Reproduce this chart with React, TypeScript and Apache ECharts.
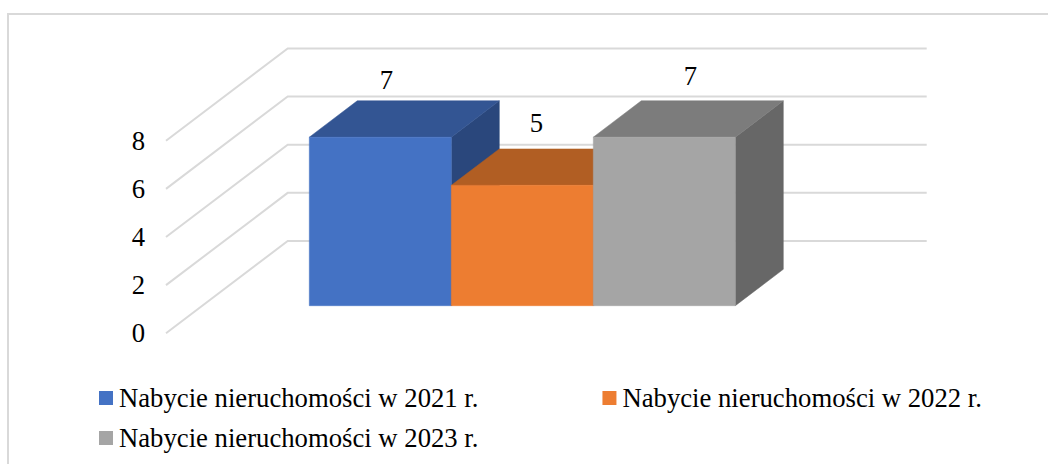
import React, { useEffect, useRef } from "react";
import * as echarts from "echarts";

const categories = ["Nabycie nieruchomości"];
const seriesNames = [
  "Nabycie nieruchomości w 2021 r.",
  "Nabycie nieruchomości w 2022 r.",
  "Nabycie nieruchomości w 2023 r.",
];
const values2021 = [7];
const values2022 = [5];
const values2023 = [7];
const allValues = [values2021, values2022, values2023];
const yTicks = [0, 2, 4, 6, 8];

const frontColors = ["#4472C4", "#ED7D31", "#A5A5A5"];
const topColors = ["#335593", "#B15E23", "#7C7C7C"];
const sideColors = ["#2A477C", "#B15E23", "#676767"];
const gridColor = "#D9D9D9";
const FONT = '"Liberation Serif", "Times New Roman", serif';
const FONT_SIZE = 26.7;

// oblique projection: depth of the wall and of the bar box in pixels
const WALL_DX = 121.7;
const WALL_DY = -92.3;
const BAR_SHIFT_X = 36.8;
const BAR_SHIFT_Y = -27.6;
const BAR_DX = 48;
const BAR_DY = -36.4;
const BAR_W = 142;
const LABEL_OFFSETS = [
  { dx: 6, dy: -57 },
  { dx: 14, dy: -62 },
  { dx: 26, dy: -61 },
];

function makeBar(idx: number) {
  return (params: any, api: any) => {
    const v = api.value(1);
    const top = api.coord([api.value(0), v]);
    const base = api.coord([api.value(0), 0]);
    const cx = top[0] + BAR_SHIFT_X;
    const x0 = cx + (idx - 1.5) * BAR_W;
    const x1 = x0 + BAR_W;
    const yT = top[1] + BAR_SHIFT_Y;
    const yB = base[1] + BAR_SHIFT_Y;
    const poly = (points: number[][], fill: string) => ({
      type: "polygon",
      shape: { points },
      style: { fill, stroke: fill, lineWidth: 0.5 },
    });
    return {
      type: "group",
      children: [
        poly(
          [[x1, yT], [x1 + BAR_DX, yT + BAR_DY], [x1 + BAR_DX, yB + BAR_DY], [x1, yB]],
          sideColors[idx]
        ),
        poly(
          [[x0, yT], [x0 + BAR_DX, yT + BAR_DY], [x1 + BAR_DX, yT + BAR_DY], [x1, yT]],
          topColors[idx]
        ),
        poly([[x0, yT], [x1, yT], [x1, yB], [x0, yB]], frontColors[idx]),
        {
          type: "text",
          style: {
            x: (x0 + x1) / 2 + LABEL_OFFSETS[idx].dx,
            y: yT + LABEL_OFFSETS[idx].dy,
            text: String(v),
            fill: "#000000",
            font: `${FONT_SIZE}px ${FONT}`,
            align: "center",
            verticalAlign: "middle",
          },
        },
      ],
    };
  };
}

function renderWall(params: any, api: any) {
  const v = api.value(0);
  const rect = params.coordSys;
  const y = api.coord([categories[0], v])[1];
  return {
    type: "polyline",
    shape: {
      points: [
        [rect.x, y],
        [rect.x + WALL_DX, y + WALL_DY],
        [rect.x + rect.width + WALL_DX, y + WALL_DY],
      ],
    },
    style: { fill: "none", stroke: gridColor, lineWidth: 2 },
  };
}

const legendBase = {
  left: 99,
  width: 900,
  itemWidth: 14,
  itemHeight: 14,
  itemGap: 124,
  icon: "rect",
  padding: 0,
  textStyle: { fontFamily: FONT, fontSize: FONT_SIZE, color: "#000000", padding: [0, 0, 0, 1], lineHeight: 30 },
};

export default function App() {
  const ref = useRef<HTMLDivElement>(null);
  useEffect(() => {
    const chart = echarts.init(ref.current!, undefined, { renderer: "svg" });
    chart.setOption({
      animation: false,
      backgroundColor: "#FFFFFF",
      grid: { left: 166, top: 140.7, width: 639, height: 192.6 },
      graphic: [
        {
          type: "polyline",
          silent: true,
          z: -10,
          shape: { points: [[8, 464], [8, 14], [1048, 14]] },
          style: { fill: "none", stroke: "#D9D9D9", lineWidth: 2 },
        },
      ],
      legend: [
        { ...legendBase, top: 383, data: seriesNames.slice(0, 2) },
        { ...legendBase, top: 423, data: seriesNames.slice(2) },
      ],
      xAxis: { type: "category", data: categories, show: false },
      yAxis: {
        type: "value",
        min: 0,
        max: 8,
        interval: 2,
        splitLine: { show: false },
        axisLine: { show: false },
        axisTick: { show: false },
        axisLabel: { fontFamily: FONT, fontSize: FONT_SIZE, color: "#000000", margin: 21 },
      },
      series: [
        {
          type: "custom",
          name: "wall",
          silent: true,
          z: 1,
          renderItem: renderWall,
          data: yTicks.map((t) => [t]),
          encode: { y: 0 },
        },
        ...seriesNames.map((name, i) => ({
          type: "custom",
          name,
          z: 2 + i,
          itemStyle: { color: frontColors[i] },
          renderItem: makeBar(i),
          data: categories.map((c, j) => [c, allValues[i][j]]),
          encode: { x: 0, y: 1 },
        })),
      ],
    });
    return () => chart.dispose();
  }, []);
  return (
    <div
      ref={ref}
      style={{ position: "fixed", left: 0, top: 0, width: 1048, height: 464 }}
    />
  );
}
